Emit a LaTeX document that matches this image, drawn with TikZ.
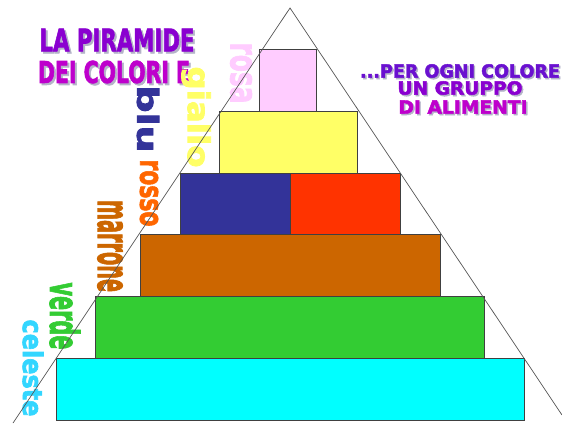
\documentclass[tikz,border=0pt]{standalone}
\usepackage{fontspec}
\setmainfont{DejaVu Sans}
\newfontfamily\pesante{DejaVu Sans}[BoldFeatures={FakeBold=2.5}]
\usetikzlibrary{positioning}
\definecolor{rosaPiano}{HTML}{FFCCFF}
\definecolor{gialloPiano}{HTML}{FFFF66}
\definecolor{bluPiano}{HTML}{333399}
\definecolor{rossoPiano}{HTML}{FF3300}
\definecolor{marronePiano}{HTML}{CC6600}
\definecolor{verdePiano}{HTML}{33CC33}
\definecolor{celestePiano}{HTML}{00FFFF}
\definecolor{rossoScritta}{HTML}{FF6600}
\definecolor{celesteScritta}{HTML}{33D6FF}
\definecolor{violaTitolo}{HTML}{8A00D0}
\definecolor{magentaTitolo}{HTML}{BE00CC}
\definecolor{bluViola}{HTML}{6A10D0}
\definecolor{grigioOmbra}{HTML}{B4B4C8}
\definecolor{grigioLato}{HTML}{555555}

\begin{document}
\begin{tikzpicture}[x=1pt, y=-1pt,
        gradino/.style={draw=black!75, line width=0.6pt, outer sep=0pt, minimum height=61.7pt},
        parola/.style={rotate=-90, inner sep=0pt, font=\pesante\bfseries},
        titolo/.style={inner sep=0pt, font=\pesante\bfseries},
        ombra/.style={titolo, text=grigioOmbra},
        lato/.style={grigioLato, line width=0.7pt}
    ]
        \useasboundingbox (0,0) rectangle (562,424);

        % piani della piramide
        \node[gradino, fill=celestePiano, minimum width=468pt] (celeste) at (290,389) {};
        \node[gradino, fill=verdePiano, minimum width=389pt, above=0pt of celeste] (verde) {};
        \node[gradino, fill=marronePiano, minimum width=300pt, above=0pt of verde] (marrone) {};
        \node[gradino, fill=bluPiano, minimum width=110pt, anchor=south east] (blu) at (marrone.north) {};
        \node[gradino, fill=rossoPiano, minimum width=110pt, anchor=south west] (rosso) at (marrone.north) {};
        \node[gradino, fill=gialloPiano, minimum width=138pt, above=0pt of blu.north east, xshift=-2pt] (giallo) {};
        \node[gradino, fill=rosaPiano, minimum width=57pt, above=0pt of giallo, xshift=-0.5pt] (rosa) {};

        % titoli
        \node[ombra] (ombraTit1) at (119,42) {\fontsize{31}{31}\selectfont\resizebox{155pt}{\height}{LA PIRAMIDE}};
        \node[titolo, text=violaTitolo] (tit1) at (117,40) {\fontsize{31}{31}\selectfont\resizebox{155pt}{\height}{LA PIRAMIDE}};
        \node[ombra] (ombraTit2) at (116,74) {\fontsize{30}{30}\selectfont\resizebox{152pt}{\height}{DEI COLORI E}};
        \node[titolo, text=magentaTitolo] (tit2) at (114,72) {\fontsize{30}{30}\selectfont\resizebox{152pt}{\height}{DEI COLORI E}};

        \node[ombra] (ombraRiga1) at (461.5,72.5) {\fontsize{18}{18}\selectfont\resizebox{200pt}{\height}{...PER OGNI COLORE}};
        \node[titolo, text=bluViola] (riga1) at (460,71) {\fontsize{18}{18}\selectfont\resizebox{200pt}{\height}{...PER OGNI COLORE}};
        \node[ombra] (ombraRiga2) at (461.5,89.5) {\fontsize{18}{18}\selectfont\resizebox{125pt}{\height}{UN GRUPPO}};
        \node[titolo, text=violaTitolo] (riga2) at (460,88) {\fontsize{18}{18}\selectfont\resizebox{125pt}{\height}{UN GRUPPO}};
        \node[ombra] (ombraRiga3) at (464.5,108.5) {\fontsize{18}{18}\selectfont\resizebox{129pt}{\height}{DI ALIMENTI}};
        \node[titolo, text=magentaTitolo] (riga3) at (463,107) {\fontsize{18}{18}\selectfont\resizebox{129pt}{\height}{DI ALIMENTI}};

        % nomi dei colori
        \node[parola, text=rosaPiano] (nomeRosa) at (241,73) {\fontsize{38}{38}\selectfont\resizebox{61pt}{\height}{rosa}};
        \node[parola, text=gialloPiano] (nomeGiallo) at (196,117) {\fontsize{30}{30}\selectfont\resizebox{101pt}{\height}{giallo}};
        \node[parola, text=bluPiano] (nomeBlu) at (148,119) {\fontsize{29}{29}\selectfont\resizebox{67pt}{\height}{blu}};
        \node[parola, text=rossoScritta] (nomeRosso) at (149,193) {\fontsize{32}{32}\selectfont\resizebox{67pt}{\height}{rosso}};
        \node[parola, text=marronePiano] (nomeMarrone) at (110,246) {\fontsize{44}{44}\selectfont\resizebox{92pt}{\height}{marrone}};
        \node[parola, text=verdePiano] (nomeVerde) at (65,316) {\fontsize{40}{40}\selectfont\resizebox{67pt}{\height}{verde}};
        \node[parola, text=celesteScritta] (nomeCeleste) at (33,368) {\fontsize{27}{27}\selectfont\resizebox{97pt}{\height}{celeste}};

        % lati del triangolo
        \coordinate (vertice) at (290,8);
        \coordinate (baseSx) at (13,423);
        \coordinate (baseDx) at (562,415);
        \draw[lato] (baseSx) -- (vertice) -- (baseDx);
    \end{tikzpicture}
\end{document}
